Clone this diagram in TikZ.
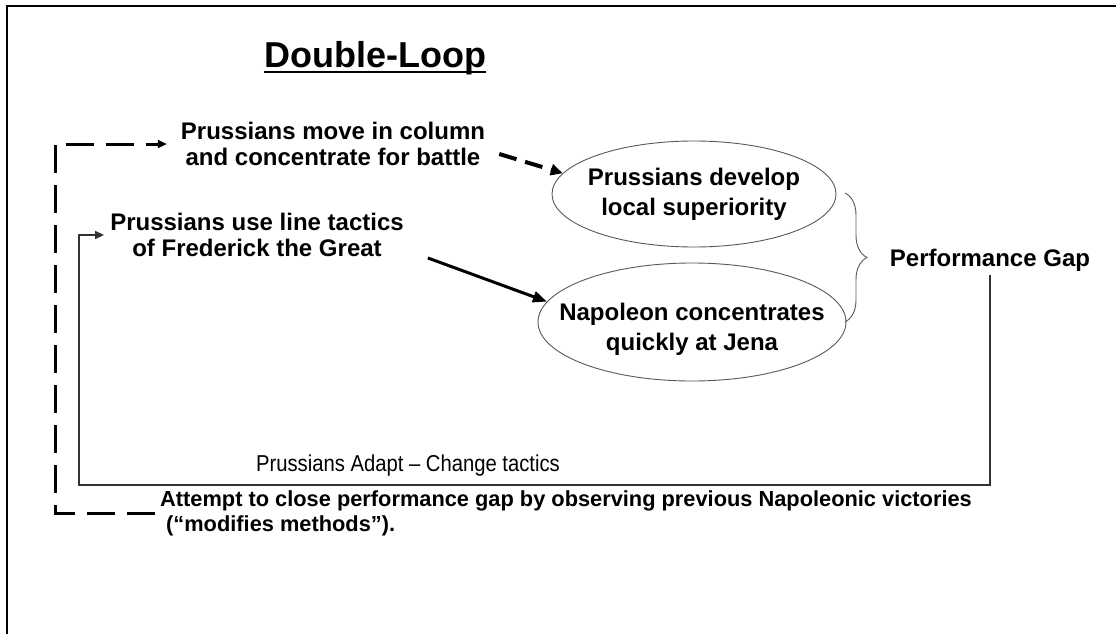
\documentclass[tikz,border=0pt]{standalone}
\usepackage{fontspec}
\setmainfont{Liberation Sans}
\usetikzlibrary{arrows.meta,shapes.geometric,decorations.pathreplacing}
\begin{document}
\begin{tikzpicture}[x=1pt,y=-1pt,
  lbl/.style={font=\bfseries\fontsize{24}{26}\selectfont, align=center, inner sep=2pt},
  oval/.style={ellipse, draw=black!65, line width=0.9pt, inner sep=0pt},
  ovaltext/.style={font=\bfseries\fontsize{24}{30}\selectfont, align=center, inner sep=0pt},
  dashloop/.style={line width=3pt, dash pattern=on 28pt off 12pt, -{Triangle[length=9pt,width=8pt]}},
  solidloop/.style={line width=1.6pt, draw=black!80, -{Triangle[length=9pt,width=8pt]}},
  dasharrow/.style={line width=4pt, dash pattern=on 18pt off 9pt, -{Triangle[length=12pt,width=11pt]}},
  thickarrow/.style={line width=3pt, -{Triangle[length=14pt,width=11pt]}},
  bracestyle/.style={draw=black!65, line width=0.9pt, decorate, decoration={brace, amplitude=22pt}}
]
\useasboundingbox (0,0) rectangle (1116,634);
\fill[white] (0,0) rectangle (1116,634);
\draw[line width=2.2pt] (7,634) -- (7,6) -- (1116,6);

% title
\node[font=\bfseries\fontsize{36}{40}\selectfont, anchor=base, inner sep=0pt] (T) at (375,67) {Double-Loop};
\draw[line width=2.5pt] ([yshift=-5pt]T.base west) -- ([yshift=-5pt]T.base east);

% texts
\node[lbl] (A) at (333,144) {Prussians move in column\\and concentrate for battle};
\node[lbl] (B) at (257,235) {Prussians use line tactics\\of Frederick the Great};

% ellipses
\node[oval, minimum width=284pt, minimum height=106pt] (E1) at (694,194) {};
\node[ovaltext] (E1t) at (E1.center) {Prussians develop\\local superiority};
\node[oval, minimum width=308pt, minimum height=118pt] (E2) at (692,322) {};
\node[ovaltext] (E2t) at ([yshift=-7pt]E2.center) {Napoleon concentrates\\quickly at Jena};

% brace and gap
\draw[bracestyle] (845,193) -- (845,322);
\node[lbl] (PG) at (990,260) {Performance Gap};

% arrows into ellipses
\draw[dasharrow] ([xshift=12pt,yshift=-10pt]A.east) -- (E1.171);
\draw[thickarrow] ([xshift=22pt,yshift=-23pt]B.east) -- (E2.172);

% adaptation texts
\node[font=\fontsize{23}{26}\selectfont, inner sep=0pt] (AD) at (408,466) {\scalebox{0.88}[1]{Prussians Adapt -- Change tactics}};
\node[font=\bfseries\fontsize{21.8}{25}\selectfont, align=left, anchor=west, inner sep=2pt] (BT) at (158,513)
  {Attempt to close performance gap by observing previous Napoleonic victories\\\hspace{6pt}(“modifies methods”).};

% loops
\draw[solidloop] ([yshift=-2pt]PG.south) -- (990,485) -- (79,485) |- ([xshift=-4pt]B.west);
\draw[dashloop] ([xshift=-3pt]BT.west) -| (55,300) |- ([xshift=-12pt]A.west);
\end{tikzpicture}
\end{document}
